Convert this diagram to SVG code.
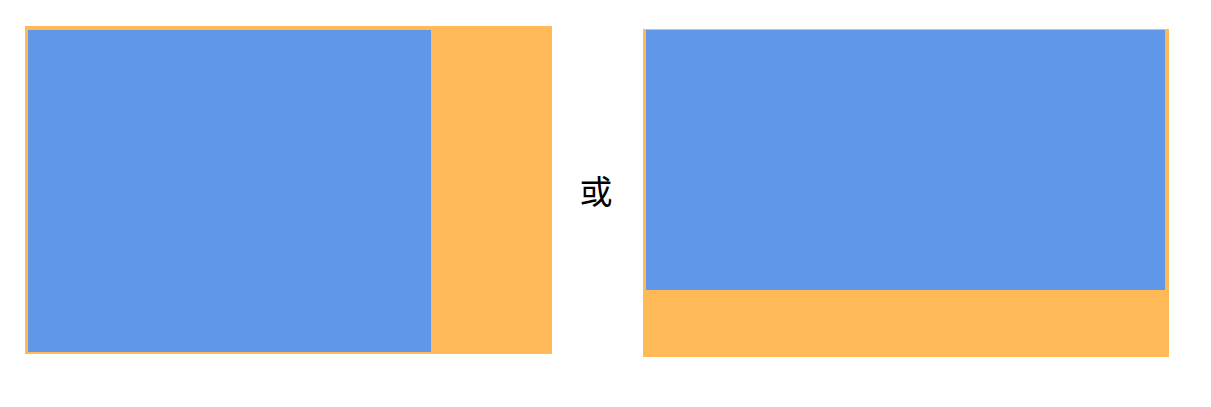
<svg xmlns="http://www.w3.org/2000/svg" width="1211" height="407" viewBox="0 0 1211 407">
<style>
.outer{fill:#FFB957}
.inner{fill:#6097E7}
.lbl{font-family:"Liberation Serif","Noto Sans CJK SC",serif;font-size:33px;fill:#000}
</style>
<rect width="1211" height="407" fill="#fff"/>
<g id="left">
<rect class="outer" x="25" y="26" width="527" height="328"/>
<rect class="inner" x="28" y="30" width="403" height="322"/>
</g>
<g id="or">
<text class="lbl" x="596" y="204" text-anchor="middle">或</text>
</g>
<g id="right">
<rect class="outer" x="643" y="29" width="526" height="328"/>
<rect class="inner" x="646" y="30" width="519" height="260"/>
</g>
<g id="connectors"/>
</svg>
